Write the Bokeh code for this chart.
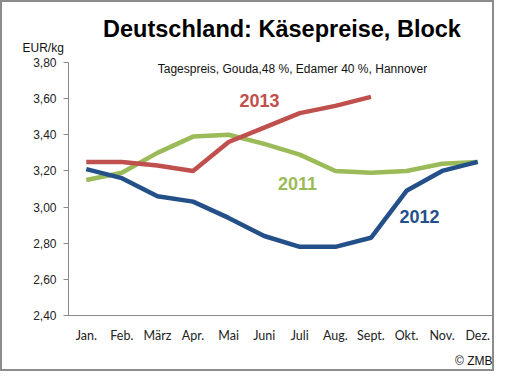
from bokeh.plotting import figure
from bokeh.models import Range1d, FactorRange, Label, Title, FixedTicker, CustomJSTickFormatter
from bokeh.embed import file_html
from bokeh.resources import INLINE

months = ["Jan.", "Feb.", "März", "Apr.", "Mai", "Juni", "Juli", "Aug.", "Sept.", "Okt.", "Nov.", "Dez."]
prices_2011 = [3.15, 3.19, 3.30, 3.39, 3.40, 3.35, 3.29, 3.20, 3.19, 3.20, 3.24, 3.25]
prices_2012 = [3.21, 3.16, 3.06, 3.03, 2.94, 2.84, 2.78, 2.78, 2.83, 3.09, 3.20, 3.25]
months_2013 = months[:9]
prices_2013 = [3.25, 3.25, 3.23, 3.20, 3.36, 3.44, 3.52, 3.56, 3.61]
y_ticks = [2.4, 2.6, 2.8, 3.0, 3.2, 3.4, 3.6, 3.8]

title_text = "Deutschland: Käsepreise, Block"
subtitle_text = "Tagespreis, Gouda,48 %, Edamer 40 %, Hannover"
unit_text = "EUR/kg"
source_text = "© ZMB"

GREEN = "#9BBB59"
RED = "#C0504D"
BLUE = "#24508A"

p = figure(width=494, height=371, x_range=FactorRange(*months, range_padding=0),
           y_range=Range1d(2.4, 3.8), output_backend="svg", toolbar_location=None,
           min_border_left=66, min_border_right=1, min_border_top=60, min_border_bottom=53,
           styles={"border": "2px solid #8c8c8c", "box-sizing": "border-box"})
p.outline_line_color = None
p.xgrid.visible = False
p.ygrid.visible = False
p.background_fill_color = "white"
p.border_fill_color = "white"

p.line(months, prices_2011, line_color=GREEN, line_width=4.5)
p.line(months, prices_2012, line_color=BLUE, line_width=4.5)
p.line(months_2013, prices_2013, line_color=RED, line_width=4.5)

ya = p.yaxis[0]
ya.ticker = FixedTicker(ticks=y_ticks)
ya.formatter = CustomJSTickFormatter(code="return tick.toFixed(2).replace('.', ',');")
ya.axis_line_color = "#8a8a8a"
ya.major_tick_line_color = "#8a8a8a"
ya.major_tick_out = 5
ya.major_tick_in = 0
ya.minor_tick_line_color = None
ya.major_label_text_font = "Liberation Sans"
ya.major_label_text_font_size = "12px"
ya.major_label_text_color = "#222222"
ya.major_label_standoff = 7

xa = p.xaxis[0]
xa.axis_line_color = "#8a8a8a"
xa.major_tick_line_color = None
xa.minor_tick_line_color = None
xa.major_label_text_font = "Lato"
xa.major_label_text_font_size = "12.5px"
xa.major_label_text_color = "#222222"
xa.major_label_standoff = 6

# texts outside the frame as titles
p.add_layout(Title(text=unit_text, align="left", offset=-46, standoff=16,
                   text_font="Liberation Sans", text_font_size="12px",
                   text_font_style="normal", text_color="#111111"), "above")
p.add_layout(Title(text=title_text, align="center", offset=-6, standoff=-23,
                   text_font="Liberation Sans", text_font_size="23.5px",
                   text_font_style="bold", text_color="#000000"), "above")
p.add_layout(Title(text=source_text, align="right", offset=3, standoff=12,
                   text_font="Liberation Sans", text_font_size="12px",
                   text_font_style="normal", text_color="#111111"), "below")

def lab(text, x, y, size, color="#111111", bold=False, align="center"):
    p.add_layout(Label(x=x, y=y, x_units="screen", y_units="screen", text=text,
                       text_font="Liberation Sans", text_font_size=size,
                       text_font_style="bold" if bold else "normal",
                       text_color=color, text_align=align, text_baseline="middle"))

lab(subtitle_text, 224, 247, "12px")
lab("2013", 191, 215, "18px", RED, bold=True)
lab("2011", 229, 132, "18px", GREEN, bold=True)
lab("2012", 351, 99, "18px", BLUE, bold=True)

open("out.html", "w").write(file_html(p, INLINE))
